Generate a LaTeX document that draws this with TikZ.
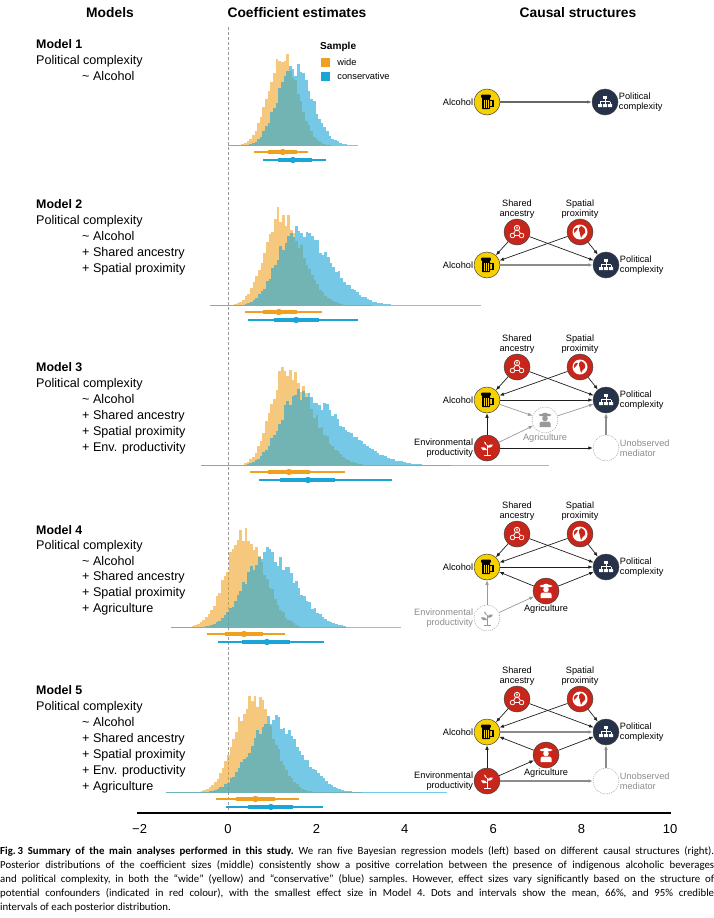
\documentclass[tikz,border=0pt]{standalone}
\usepackage{fontspec}
\setmainfont{Liberation Sans}
\newfontfamily\capfont{Carlito}
\usetikzlibrary{arrows.meta,positioning}

\definecolor{wideorange}{HTML}{F0A020}
\definecolor{consblue}{HTML}{1AA5D6}
\definecolor{alcyellow}{HTML}{F6D000}
\definecolor{confred}{HTML}{C8261B}
\definecolor{polnavy}{HTML}{26314A}

\tikzset{
  header/.style={font=\bfseries\fontsize{13.8}{15}\selectfont, inner sep=0},
  modelname/.style={font=\bfseries\fontsize{12.4}{14}\selectfont, anchor=west, inner sep=0, text height=9pt, text depth=2.5pt},
  modelterm/.style={font=\fontsize{12.6}{14}\selectfont, anchor=west, inner sep=0, text height=9pt, text depth=2.5pt},
  legtext/.style={font=\fontsize{9.3}{10}\selectfont, inner sep=0},
  swatch/.style={minimum size=9pt, inner sep=0},
  widefill/.style={fill=wideorange, fill opacity=0.58},
  consfill/.style={fill=consblue, fill opacity=0.6},
  lbl/.style={font=\fontsize{9.2}{10}\selectfont, inner sep=0.5pt, align=center},
  cause/.style={circle, minimum size=26pt, inner sep=0, draw=black!75, line width=0.5pt},
  alcohol/.style={cause, fill=alcyellow},
  confounder/.style={cause, fill=confred},
  outcome/.style={cause, fill=polnavy},
  latent/.style={cause, fill=white, draw=black!35, dash pattern=on 1.2pt off 1pt},
  causal/.style={-{Latex[length=4.5pt,width=3.6pt]}, line width=0.7pt, black!88},
  faint/.style={causal, black!40},
  direct/.style={causal, line width=1.3pt, black!45},
  mug/.pic={
    \fill[rounded corners=0.6pt] (-5,-4) rectangle (3,7);
    \draw[line width=1.2pt] (3,-1.5) -| (6,4.5) -- (3,4.5);
    \fill[rounded corners=1pt] (-5.8,-7.5) rectangle (3.8,-4);
    \draw[alcyellow, line width=0.9pt] (-3,-2.5) -- (-3,5.5) (-1,-2.5) -- (-1,5.5) (1,-2.5) -- (1,5.5);
  },
  hierarchy/.pic={
    \fill (-2,-6.5) rectangle (2,-3.5);
    \draw[line width=0.7pt] (0,-3.5) -- (0,-0.5) (-5,-0.5) -- (5,-0.5) (-5,-0.5) -- (-5,2) (0,-0.5) -- (0,2) (5,-0.5) -- (5,2);
    \fill (-7,2) rectangle (-3,5) (-2,2) rectangle (2,5) (3,2) rectangle (7,5);
  },
  ancestry/.pic={
    \draw[line width=0.8pt] (0,-4) circle (2.7pt) (-4.5,3.5) circle (2.3pt) (4.5,3.5) circle (2.3pt);
    \draw[line width=0.8pt] (-1.5,-1.7) -- (-3.4,1.5) (1.5,-1.7) -- (3.4,1.5) (-2.2,3.5) -- (2.2,3.5);
    \fill (0,-4.8) circle (0.9pt);
    \fill (-1.5,-2.6) .. controls (-1.4,-4) and (1.4,-4) .. (1.5,-2.6) -- cycle;
  },
  globe/.pic={
    \fill (0,0) circle (7.5pt);
    \fill[confred] (1,-6) .. controls (4,-5) and (6,-2) .. (5,1) .. controls (3,2) and (2,4) .. (1,6) .. controls (-1,3) and (1,0) .. (-1,-2) .. controls (-2,-3) and (0,-5) .. (1,-6) -- cycle;
    \fill[confred] (-6,-2) .. controls (-5,-4) and (-3,-5) .. (-2,-4) .. controls (-3,-2) and (-4,0) .. (-6,1) -- cycle;
  },
  farmer/.pic={
    \fill (0,-5) ellipse (6.5pt and 1.4pt);
    \fill (-3.2,-5) .. controls (-3.2,-8.5) and (3.2,-8.5) .. (3.2,-5) -- cycle;
    \fill (0,-1.5) circle (2.8pt);
    \fill (-5.5,7) -- (-5.5,3.5) .. controls (-5.5,2) and (-4,1.5) .. (-2.5,1.5) -- (2.5,1.5) .. controls (4,1.5) and (5.5,2) .. (5.5,3.5) -- (5.5,7) -- cycle;
  },
  plant/.pic={
    \draw[line width=1pt] (0,6.5) -- (0,-3);
    \fill (0,2) .. controls (-1.5,-1) and (-4.5,-1.5) .. (-6,-0.5) .. controls (-5,2.5) and (-2,3) .. (0,2) -- cycle;
    \fill (0,-0.5) .. controls (1.5,-3.5) and (4.5,-4.5) .. (6,-3.5) .. controls (5,-0.5) and (2,0.5) .. (0,-0.5) -- cycle;
    \fill (0,-2.5) .. controls (-0.5,-5) and (-2,-6.5) .. (-3,-6.5) .. controls (-3,-4.5) and (-1.5,-3) .. (0,-2.5) -- cycle;
    \fill (-3.5,6.5) rectangle (3.5,7.5);
  }
}

% baseline, from, to, mode, left sd, right sd, peak, style
\newcommand{\posterior}[8]{%
  \pgfmathtruncatemacro{\nbin}{(#3-(#2))/0.06}
  \foreach \k in {0,...,\nbin}{
    \pgfmathsetmacro{\binx}{#2+\k*0.06}
    \pgfmathsetmacro{\sig}{\binx<#4 ? #5 : #6}
    \pgfmathsetmacro{\zz}{min(abs(\binx-(#4))/\sig,5)}
    \pgfmathsetmacro{\binh}{max(0.7,#7*exp(-0.5*\zz*\zz)*(0.9+0.2*rnd))}
    \fill[#8] ({228+44.2*(\binx)},#1) rectangle ({228+44.2*(\binx+0.06)},{#1-\binh});
  }
}

% y, lo95, lo66, mean, hi66, hi95, colour
\newcommand{\interval}[7]{%
  \draw[#7, line width=1.5pt] ({228+44.2*(#2)},#1) -- ({228+44.2*(#6)},#1);
  \draw[#7, line width=4pt] ({228+44.2*(#3)},#1) -- ({228+44.2*(#5)},#1);
  \fill[#7] ({228+44.2*(#4)},#1) circle (3.2pt);
}

\begin{document}
\begin{tikzpicture}[x=1pt, y=-1pt]
\useasboundingbox (0,0) rectangle (714,918);
\pgfmathsetseed{7}

\node[header] (hmodels) at (110,13) {Models};
\node[header] (hcoef) at (297,13) {Coefficient estimates};
\node[header] (hcausal) at (578,13) {Causal structures};

% models
\node[modelname] (m1) at (36,45) {Model 1};
\node[modelterm] (m1dv) at (36,61) {Political complexity};
\node[modelterm] (m1t1) at (82,77) {\textasciitilde\ Alcohol};

\node[modelname] (m2) at (36,205) {Model 2};
\node[modelterm] (m2dv) at (36,221) {Political complexity};
\foreach \t [count=\j] in {\textasciitilde\ Alcohol, + Shared ancestry, + Spatial proximity}
  \node[modelterm] (m2t\j) at (82,{221+16.1*\j}) {\t};

\node[modelname] (m3) at (36,368) {Model 3};
\node[modelterm] (m3dv) at (36,384) {Political complexity};
\foreach \t [count=\j] in {\textasciitilde\ Alcohol, + Shared ancestry, + Spatial proximity, + Env. productivity}
  \node[modelterm] (m3t\j) at (82,{384+16.1*\j}) {\t};

\node[modelname] (m4) at (36,531) {Model 4};
\node[modelterm] (m4dv) at (36,546) {Political complexity};
\foreach \t [count=\j] in {\textasciitilde\ Alcohol, + Shared ancestry, + Spatial proximity, + Agriculture}
  \node[modelterm] (m4t\j) at (82,{546+15.8*\j}) {\t};

\node[modelname] (m5) at (36,691) {Model 5};
\node[modelterm] (m5dv) at (36,707) {Political complexity};
\foreach \t [count=\j] in {\textasciitilde\ Alcohol, + Shared ancestry, + Spatial proximity, + Env. productivity, + Agriculture}
  \node[modelterm] (m5t\j) at (82,{707+16*\j}) {\t};

% coefficient estimates
\draw[black!40, line width=0.5pt, dash pattern=on 3pt off 2pt] (228,27) -- (228,813);

\posterior{146}{0.0}{2.3}{1.2}{0.32}{0.34}{92}{widefill}
\posterior{146}{0.0}{2.9}{1.45}{0.36}{0.42}{78}{consfill}
\interval{152}{0.59}{0.9}{1.24}{1.56}{1.81}{wideorange}
\interval{160}{0.79}{1.13}{1.47}{1.9}{2.22}{consblue}

\posterior{306}{-0.4}{3.2}{1.15}{0.36}{0.5}{91}{widefill}
\posterior{306}{-0.4}{5.7}{1.5}{0.42}{0.75}{76}{consfill}
\interval{312}{0.38}{0.8}{1.15}{1.55}{2.13}{wideorange}
\interval{320}{0.45}{1.05}{1.54}{2.05}{2.94}{consblue}

\posterior{466}{-0.6}{5.0}{1.25}{0.33}{0.62}{94}{widefill}
\posterior{466}{-0.6}{7.2}{1.55}{0.42}{1.0}{71}{consfill}
\interval{472}{0.5}{0.9}{1.38}{1.86}{2.65}{wideorange}
\interval{480}{0.7}{1.18}{1.81}{2.42}{3.7}{consblue}

\posterior{628}{-1.3}{2.6}{0.35}{0.42}{0.45}{95}{widefill}
\posterior{628}{-1.3}{3.9}{0.85}{0.5}{0.65}{74}{consfill}
\interval{634}{-0.47}{-0.07}{0.36}{0.8}{1.29}{wideorange}
\interval{642}{-0.22}{0.32}{0.88}{1.4}{2.17}{consblue}

\posterior{793}{-1.4}{3.0}{0.55}{0.42}{0.45}{95}{widefill}
\posterior{793}{-1.4}{4.9}{0.95}{0.5}{0.65}{72}{consfill}
\interval{799}{-0.27}{0.18}{0.62}{1.07}{1.6}{wideorange}
\interval{807}{-0.05}{0.45}{0.97}{1.48}{2.16}{consblue}

\draw[line width=1.1pt] (137,813) -- (671,813);
\foreach \v/\t in {-2/−2,0/0,2/2,4/4,6/6,8/8,10/10}
  \node[font=\fontsize{13}{14}\selectfont] (tick\v) at ({228+44.2*\v},829) {\t};

% legend
\node[font=\bfseries\fontsize{10.1}{11}\selectfont, anchor=west, inner sep=0] (leg) at (320,47) {Sample};
\node[swatch, fill=wideorange] (legw) at (325.5,62) {};
\node[legtext, right=7pt of legw] (legwt) {wide};
\node[swatch, fill=consblue] (legc) at (325.5,76) {};
\node[legtext, right=7pt of legc] (legct) {conservative};

% causal structures
\node[alcohol, label={[lbl]left:Alcohol}] (al1) at (487,102) {};
\node[outcome, label={[lbl,align=left]right:{Political\\complexity}}] (pc1) at (605,102) {};
\pic[color=black] at (al1) {mug};
\pic[color=white] at (pc1) {hierarchy};
\draw[direct, black!60] (al1) -- (pc1);

\foreach \m/\y/\st in {2/232/direct,3/367/causal,4/534/causal,5/699/direct}{
  \node[confounder, label={[lbl]above:{Shared\\ancestry}}] (sa\m) at (517,\y) {};
  \node[confounder, label={[lbl]above:{Spatial\\proximity}}] (sp\m) at (580,\y) {};
  \node[alcohol, label={[lbl]left:Alcohol}] (al\m) at (487,\y+33) {};
  \node[outcome, label={[lbl,align=left]right:{Political\\complexity}}] (pc\m) at (606,\y+33) {};
  \pic[color=white] at (sa\m) {ancestry};
  \pic[color=white] at (sp\m) {globe};
  \pic[color=black] at (al\m) {mug};
  \pic[color=white] at (pc\m) {hierarchy};
  \draw[causal] (sa\m) -- (al\m);
  \draw[causal] (sa\m) -- (pc\m);
  \draw[causal] (sp\m) -- (al\m);
  \draw[causal] (sp\m) -- (pc\m);
  \draw[\st] (al\m) -- (pc\m);
}

\node[latent, label={[lbl,text=black!45]below:Agriculture}] (ag3) at (545,420) {};
\node[confounder, label={[lbl,align=right]left:{Environmental\\productivity}}] (ep3) at (487,448) {};
\node[latent, label={[lbl,align=left,text=black!45]right:{Unobserved\\mediator}}] (um3) at (606,448) {};
\pic[color=black!40] at (ag3) {farmer};
\pic[color=white] at (ep3) {plant};
\draw[faint] (al3) -- (ag3);
\draw[faint] (ag3) -- (pc3);
\draw[causal] (ep3) -- (al3);
\draw[faint] (ep3) -- (ag3);
\draw[causal] (ep3) -- (um3);
\draw[direct] (um3) -- (pc3);

\node[confounder, label={[lbl]below:Agriculture}] (ag4) at (546,591) {};
\node[latent, label={[lbl,align=right,text=black!45]left:{Environmental\\productivity}}] (ep4) at (487,618) {};
\pic[color=white] at (ag4) {farmer};
\pic[color=black!40] at (ep4) {plant};
\draw[causal] (ag4) -- (al4);
\draw[causal] (ag4) -- (pc4);
\draw[faint] (ep4) -- (al4);
\draw[faint] (ep4) -- (ag4);

\node[confounder, label={[lbl]below:Agriculture}] (ag5) at (546,755) {};
\node[confounder, label={[lbl,align=right]left:{Environmental\\productivity}}] (ep5) at (487,781) {};
\node[latent, label={[lbl,align=left,text=black!45]right:{Unobserved\\mediator}}] (um5) at (606,781) {};
\pic[color=white] at (ag5) {farmer};
\pic[color=white] at (ep5) {plant};
\draw[causal] (ag5) -- (al5);
\draw[causal] (ag5) -- (pc5);
\draw[causal] (ep5) -- (al5);
\draw[causal] (ep5) -- (ag5);
\draw[direct] (ep5) -- (um5);
\draw[direct] (um5) -- (pc5);

% caption
\node[anchor=north west, inner sep=0, text width=714pt, align=justify, font=\capfont\fontsize{10.8}{14.2}\selectfont\frenchspacing] (caption) at (0,846)
  {\textbf{Fig.\,3 Summary of the main analyses performed in this study.} We ran five Bayesian regression models (left) based on different causal structures (right).\linebreak
  Posterior distributions of the coefficient sizes (middle) consistently show a positive correlation between the presence of indigenous alcoholic beverages\linebreak
  and political complexity, in both the “wide” (yellow) and “conservative” (blue) samples. However, effect sizes vary significantly based on the structure of\linebreak
  potential confounders (indicated in red colour), with the smallest effect size in Model 4. Dots and intervals show the mean, 66\%, and 95\% credible\linebreak
  intervals of each posterior distribution.};
\end{tikzpicture}
\end{document}
